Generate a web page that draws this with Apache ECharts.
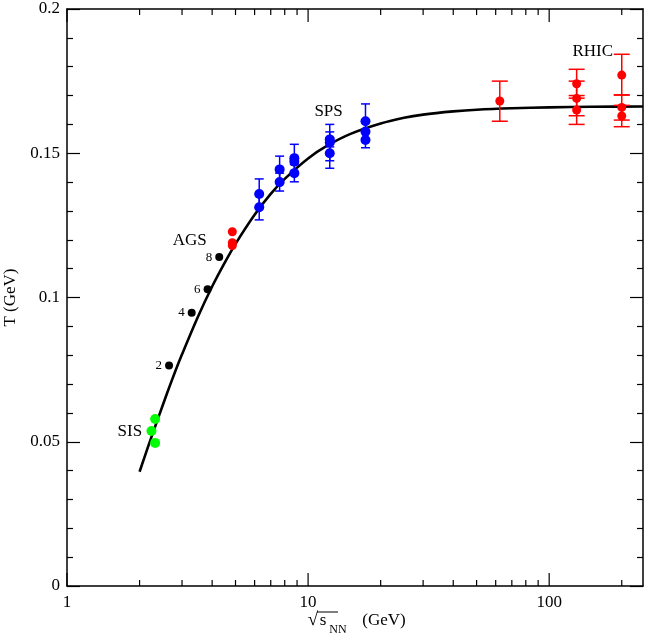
<!DOCTYPE html>
<html>
<head>
<meta charset="utf-8">
<script src="https://cdn.jsdelivr.net/npm/echarts@6/dist/echarts.min.js"></script>
<style>html,body{margin:0;padding:0;background:#fff;}#c{width:649px;height:639px;}</style>
</head>
<body>
<div id="c"></div>
<script>
// ---- data ----
const curveX = [2.0, 2.2, 2.4, 2.6, 2.8, 3.0, 3.5, 4.0, 4.5, 5.0, 6.0, 7.0, 8.0, 10, 12, 15, 20, 25, 30, 40, 50, 70, 100, 150, 245];
const curveT = [0.0396, 0.0498, 0.0587, 0.0668, 0.0740, 0.0803, 0.0935, 0.1038, 0.1119, 0.1186, 0.1287, 0.1359, 0.1411, 0.1482, 0.1526, 0.1567, 0.1603, 0.1623, 0.1634, 0.1645, 0.1651, 0.1656, 0.1659, 0.1661, 0.1662];

const sisPts = [[2.32, 0.0579], [2.24, 0.0537], [2.32, 0.0496]];
const agsBeamPts = [[2.65, 0.0764], [3.29, 0.0947], [3.83, 0.1029], [4.28, 0.1140]];
const agsBeamLabels = ['2', '4', '6', '8'];
const agsPts = [[4.85, 0.1228], [4.85, 0.1190], [4.85, 0.1180]];
const spsPts = [[6.27, 0.1359], [6.27, 0.1313], [7.62, 0.1444], [7.62, 0.1400], [8.77, 0.1483], [8.77, 0.1471], [8.77, 0.1431], [12.3, 0.1548], [12.3, 0.1537], [12.3, 0.1500], [17.3, 0.1611], [17.3, 0.1575], [17.3, 0.1546]];
const spsErr = [[6.27, 0.1311, 0.1411], [6.27, 0.1269, 0.1357], [7.62, 0.1398, 0.1490], [7.62, 0.1369, 0.1431], [8.77, 0.1435, 0.1531], [8.77, 0.1401, 0.1461], [12.3, 0.1522, 0.1574], [12.3, 0.1474, 0.1600], [12.3, 0.1448, 0.1552], [17.3, 0.1551, 0.1671], [17.3, 0.1519, 0.1573]];
const rhicPts = [[62.4, 0.1681], [130, 0.1741], [130, 0.1690], [130, 0.1650], [200, 0.1771], [200, 0.1659], [200, 0.1629]];
const rhicErr = [[62.4, 0.1611, 0.1750], [130, 0.1691, 0.1791], [130, 0.1630, 0.1750], [130, 0.1600, 0.1700], [200, 0.1702, 0.1843], [200, 0.1615, 0.1702], [200, 0.1592, 0.1666]];

const regionNames = ['SIS', 'AGS', 'SPS', 'RHIC'];
const regionPos = [[1.823, 0.0537], [3.23, 0.1199], [12.16, 0.1644], [151.6, 0.1852]];

const xMajorTicks = [1, 10, 100];
const xMinorTicks = [2, 3, 4, 5, 6, 7, 8, 9, 20, 30, 40, 50, 60, 70, 80, 90, 200];
const xMin = 1, xMax = 245;
const yMin = 0, yMax = 0.2, yStep = 0.05;

// ---- chart ----
const FONT = '"Liberation Serif", "Times New Roman", serif';
const chart = echarts.init(document.getElementById('c'), null, {renderer: 'canvas'});

function xAxisDef(pos, showLabel) {
  return {
    type: 'log', logBase: 10, min: xMin, max: xMax, position: pos,
    axisLine: {show: true, onZero: false, lineStyle: {color: '#000', width: 1.5}},
    axisTick: {show: false},
    axisLabel: {show: showLabel, customValues: xMajorTicks, color: '#000', fontFamily: FONT, fontSize: 17, margin: 8},
    splitLine: {show: false}, minorTick: {show: false}
  };
}
function yAxisDef(pos, showLabel) {
  return {
    type: 'value', min: yMin, max: yMax, interval: yStep, position: pos,
    axisLine: {show: true, onZero: false, lineStyle: {color: '#000', width: 1.5}},
    axisTick: {show: true, inside: true, length: 13, lineStyle: {color: '#000', width: 1.2}},
    minorTick: {show: true, splitNumber: 5, length: 6, lineStyle: {color: '#000', width: 1.2}},
    axisLabel: {show: showLabel, color: '#000', fontFamily: FONT, fontSize: 17, margin: 7,
      formatter: v => (Math.round(v * 1000) / 1000).toString()},
    splitLine: {show: false}
  };
}

function errRender(capHalf, color) {
  return function (params, api) {
    const x = api.value(0), lo = api.value(1), hi = api.value(2);
    const a = api.coord([x, lo]), b = api.coord([x, hi]);
    const st = {stroke: color, lineWidth: 1.5};
    return {type: 'group', children: [
      {type: 'line', shape: {x1: a[0], y1: a[1], x2: b[0], y2: b[1]}, style: st},
      {type: 'line', shape: {x1: a[0] - capHalf, y1: a[1], x2: a[0] + capHalf, y2: a[1]}, style: st},
      {type: 'line', shape: {x1: b[0] - capHalf, y1: b[1], x2: b[0] + capHalf, y2: b[1]}, style: st}
    ]};
  };
}
function tickRender(len) {
  return function (params, api) {
    const v = api.value(0);
    const bot = api.coord([v, yMin]), top = api.coord([v, yMax]);
    const st = {stroke: '#000', lineWidth: 1.2};
    return {type: 'group', children: [
      {type: 'line', shape: {x1: bot[0], y1: bot[1], x2: bot[0], y2: bot[1] - len}, style: st},
      {type: 'line', shape: {x1: top[0], y1: top[1], x2: top[0], y2: top[1] + len}, style: st}
    ]};
  };
}

const option = {
  animation: false,
  backgroundColor: '#fff',
  grid: {left: 67, right: 6, top: 9, bottom: 53, containLabel: false, outerBoundsMode: 'none'},
  xAxis: [xAxisDef('bottom', true), xAxisDef('top', false)],
  yAxis: [
    Object.assign(yAxisDef('left', true), {name: 'T (GeV)', nameLocation: 'middle', nameGap: 48, nameRotate: 90,
      nameTextStyle: {color: '#000', fontFamily: FONT, fontSize: 17}}),
    yAxisDef('right', false)
  ],
  graphic: [
    {type: 'text', x: 313, y: 620, style: {text: '\u221A', font: '19px ' + FONT, fill: '#000', textAlign: 'center', textVerticalAlign: 'middle'}},
    {type: 'text', x: 323, y: 621, style: {text: 's', font: '17px ' + FONT, fill: '#000', textAlign: 'center', textVerticalAlign: 'middle'}},
    {type: 'line', shape: {x1: 317, y1: 612, x2: 338, y2: 612}, style: {stroke: '#000', lineWidth: 1}},
    {type: 'text', x: 338, y: 630, style: {text: 'NN', font: '12px ' + FONT, fill: '#000', textAlign: 'center', textVerticalAlign: 'middle'}},
    {type: 'text', x: 384, y: 621, style: {text: '(GeV)', font: '17px ' + FONT, fill: '#000', textAlign: 'center', textVerticalAlign: 'middle'}}
  ],
  series: [
    {type: 'custom', data: xMajorTicks.map(v => [v]), renderItem: tickRender(13), silent: true, z: 1, clip: false},
    {type: 'custom', data: xMinorTicks.map(v => [v]), renderItem: tickRender(6), silent: true, z: 1, clip: false},
    {type: 'line', data: curveX.map((x, i) => [x, curveT[i]]), smooth: 0.3, symbol: 'none',
      lineStyle: {color: '#000', width: 2.6}, z: 2},
    {type: 'custom', data: spsErr, renderItem: errRender(4.5, '#0000ff'), z: 3, encode: {x: 0, y: [1, 2]}},
    {type: 'custom', data: rhicErr, renderItem: errRender(8, '#ff0000'), z: 3, encode: {x: 0, y: [1, 2]}},
    {type: 'scatter', data: sisPts, symbolSize: 10, itemStyle: {color: '#00ff00', opacity: 1}, z: 4},
    {type: 'scatter', data: agsBeamPts.map((p, i) => ({value: p, name: agsBeamLabels[i]})), symbolSize: 8,
      itemStyle: {color: '#000', opacity: 1}, z: 4,
      label: {show: true, position: 'left', distance: 3, formatter: '{b}', color: '#000', fontFamily: FONT, fontSize: 13}},
    {type: 'scatter', data: agsPts, symbolSize: 9, itemStyle: {color: '#ff0000', opacity: 1}, z: 4},
    {type: 'scatter', data: spsPts, symbolSize: 10, itemStyle: {color: '#0000ff', opacity: 1}, z: 4},
    {type: 'scatter', data: rhicPts, symbolSize: 9, itemStyle: {color: '#ff0000', opacity: 1}, z: 4},
    {type: 'scatter', data: regionPos.map((p, i) => ({value: p, name: regionNames[i]})), symbolSize: 0, silent: true,
      itemStyle: {opacity: 1},
      label: {show: true, position: 'inside', formatter: '{b}', color: '#000', fontFamily: FONT, fontSize: 17}, z: 5}
  ]
};
chart.setOption(option);
</script>
</body>
</html>
